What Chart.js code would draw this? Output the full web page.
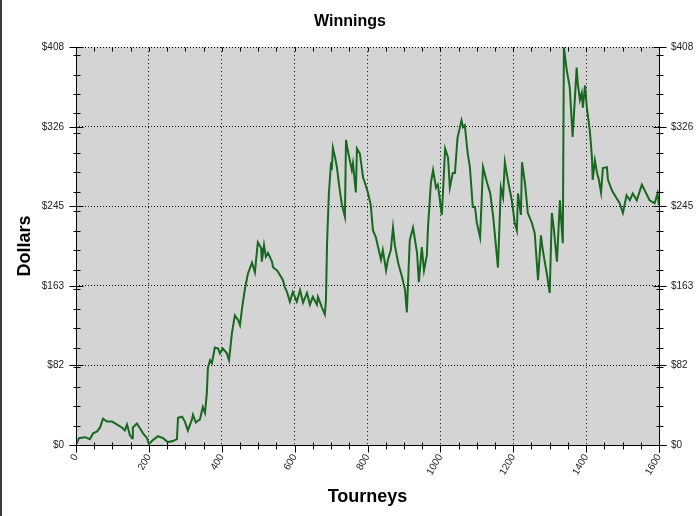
<!DOCTYPE html>
<html>
<head>
<meta charset="utf-8">
<script src="https://cdn.jsdelivr.net/npm/chart.js@4.4.1/dist/chart.umd.min.js"></script>
<style>
  html, body { margin: 0; padding: 0; background: #fff; }
  #wrap { position: relative; width: 700px; height: 516px; }
  #edge { position: absolute; left: 0; top: 0; width: 2px; height: 516px; background: #3a3a3a; }
</style>
</head>
<body>
<div id="wrap">
  <canvas id="winningsChart" width="700" height="516"></canvas>
  <div id="edge"></div>
</div>
<script>
// Running winnings (tourney number -> dollars)
const tourneys = [
  0, 8, 25, 38, 47, 58, 66, 74, 85, 99, 113, 126, 134, 140, 148, 154, 156, 167, 176, 184,
  195, 200, 211, 225, 239, 252, 266, 277, 280, 291, 299, 307, 318, 321, 329, 335, 340, 348, 354, 359,
  362, 368, 373, 376, 381, 390, 395, 403, 414, 420, 428, 436, 445, 450, 456, 464, 472, 483, 491, 499,
  508, 510, 516, 521, 527, 538, 541, 552, 560, 568, 573, 579, 587, 595, 606, 615, 623, 634, 642, 650,
  661, 664, 675, 683, 686, 689, 694, 700, 702, 705, 711, 716, 724, 730, 738, 741, 746, 757, 760, 768,
  771, 779, 788, 793, 801, 809, 815, 823, 829, 837, 842, 851, 856, 864, 870, 875, 884, 895, 903, 908,
  916, 925, 936, 941, 949, 955, 963, 966, 974, 980, 988, 993, 1004, 1007, 1013, 1021, 1026, 1034, 1040, 1047,
  1058, 1062, 1067, 1075, 1081, 1089, 1095, 1100, 1109, 1117, 1128, 1137, 1145, 1158, 1166, 1172, 1177, 1185, 1196, 1204,
  1210, 1213, 1221, 1224, 1232, 1240, 1251, 1259, 1268, 1276, 1281, 1292, 1300, 1306, 1311, 1320, 1328, 1333, 1336, 1339,
  1347, 1355, 1363, 1374, 1377, 1383, 1388, 1391, 1397, 1402, 1410, 1416, 1418, 1424, 1430, 1435, 1441, 1446, 1457, 1460,
  1471, 1479, 1492, 1501, 1511, 1520, 1528, 1539, 1553, 1561, 1574, 1588, 1596, 1600
];
const dollars = [
  0, 7, 8, 6, 12, 14, 18, 27, 24, 24, 21, 18, 15, 21, 10, 7, 18, 22, 17, 12,
  7, 1, 5, 9, 7, 3, 4, 6, 28, 29, 24, 15, 26, 31, 23, 25, 26, 39, 33, 53,
  79, 87, 84, 90, 100, 99, 94, 99, 94, 87, 115, 133, 128, 123, 141, 161, 176, 187, 177, 208,
  202, 188, 205, 193, 197, 188, 182, 179, 174, 169, 162, 157, 147, 157, 147, 159, 146, 156, 144, 152,
  144, 152, 141, 134, 149, 207, 258, 290, 282, 305, 295, 285, 261, 246, 234, 313, 302, 282, 289, 259,
  304, 299, 274, 269, 259, 246, 220, 213, 203, 190, 200, 179, 190, 200, 223, 205, 187, 172, 159, 136,
  210, 223, 197, 167, 203, 179, 195, 223, 269, 282, 264, 267, 236, 258, 304, 295, 264, 279, 279, 315,
  333, 326, 328, 299, 285, 244, 244, 228, 213, 285, 269, 258, 234, 182, 264, 254, 290, 272, 251, 228,
  220, 258, 236, 290, 269, 238, 228, 217, 169, 215, 200, 176, 156, 238, 223, 188, 251, 223, 207, 408,
  384, 367, 316, 387, 371, 354, 361, 346, 369, 346, 323, 295, 272, 292, 279, 272, 259, 284, 285, 272,
  261, 256, 248, 238, 256, 251, 258, 251, 267, 261, 251, 248, 258, 246
];

const xTickValues = [0, 200, 400, 600, 800, 1000, 1200, 1400, 1600];
const yTickValues = [0, 81.6, 163.2, 244.8, 326.4, 408];
const yTickLabels = ['$0', '$82', '$163', '$245', '$326', '$408'];

const fontFamily = 'Arial, "Liberation Sans", sans-serif';

// gray plot background
const plotBackground = {
  id: 'plotBackground',
  beforeDraw(chart) {
    const { ctx, chartArea: a } = chart;
    ctx.save();
    ctx.fillStyle = '#d4d4d4';
    ctx.fillRect(a.left, a.top, a.right - a.left, a.bottom - a.top);
    ctx.restore();
  }
};

// solid axes plus major/minor tick marks
const tickMarks = {
  id: 'tickMarks',
  afterDraw(chart) {
    const { ctx, chartArea: a, scales: { x, y } } = chart;
    const L = Math.round(a.left) + 0.5;
    const R = Math.round(a.right) + 0.5;
    const T = Math.round(a.top) + 0.5;
    const B = Math.round(a.bottom) + 0.5;
    ctx.save();
    ctx.strokeStyle = '#000';
    ctx.lineWidth = 1;
    ctx.beginPath();
    ctx.moveTo(L, T); ctx.lineTo(L, B + 7);
    ctx.moveTo(R, T); ctx.lineTo(R, B + 7);
    ctx.moveTo(L - 7, B); ctx.lineTo(R + 7, B);
    for (let v = 0; v <= 1600; v += 50) {
      const px = Math.round(x.getPixelForValue(v)) + 0.5;
      if (v % 200 === 0) {
        ctx.moveTo(px, B); ctx.lineTo(px, B + 7);
      } else {
        ctx.moveTo(px, B - 3); ctx.lineTo(px, B + 4);
      }
      ctx.moveTo(px, T); ctx.lineTo(px, T + 4);
    }
    for (let v = 0; v <= 408; v += 20) {
      const py = Math.round(y.getPixelForValue(v)) + 0.5;
      ctx.moveTo(L - 3, py); ctx.lineTo(L + 4, py);
      ctx.moveTo(R - 3, py); ctx.lineTo(R + 4, py);
    }
    yTickValues.forEach(v => {
      const py = Math.round(y.getPixelForValue(v)) + 0.5;
      ctx.moveTo(L - 7, py); ctx.lineTo(L + 7, py);
      ctx.moveTo(R - 6, py); ctx.lineTo(R + 7, py);
    });
    ctx.stroke();
    ctx.restore();
  }
};

function setYTicks(scale) {
  scale.ticks = yTickValues.map(v => ({ value: v }));
}

new Chart(document.getElementById('winningsChart'), {
  type: 'line',
  data: {
    datasets: [{
      label: 'Winnings',
      data: tourneys.map((t, i) => ({ x: t, y: dollars[i] })),
      borderColor: '#17691f',
      borderWidth: 2,
      pointRadius: 0,
      tension: 0,
      fill: false
    }]
  },
  options: {
    responsive: false,
    animation: false,
    layout: { padding: 0 },
    plugins: {
      legend: { display: false },
      tooltip: { enabled: false },
      title: {
        display: true,
        text: 'Winnings',
        color: '#000',
        font: { family: fontFamily, size: 16, weight: 'bold' },
        padding: { top: 12, bottom: 16 }
      }
    },
    scales: {
      x: {
        type: 'linear',
        min: 0,
        max: 1600,
        afterBuildTicks: scale => { scale.ticks = xTickValues.map(v => ({ value: v })); },
        afterFit: scale => { scale.height = 71; },
        ticks: {
          autoSkip: false,
          minRotation: 60,
          maxRotation: 60,
          padding: 7,
          color: '#222',
          font: { family: fontFamily, size: 10 },
          callback: v => String(v)
        },
        grid: { color: '#000', drawTicks: false, lineWidth: 1 },
        border: { display: false, dash: [1, 3] },
        title: {
          display: true,
          text: 'Tourneys',
          color: '#000',
          font: { family: fontFamily, size: 18, weight: 'bold' },
          padding: { top: 0, bottom: 8 }
        }
      },
      y: {
        position: 'left',
        min: 0,
        max: 408,
        afterBuildTicks: setYTicks,
        afterFit: scale => { scale.width = 76; },
        ticks: {
          padding: 12,
          color: '#222',
          font: { family: fontFamily, size: 10 },
          callback: (v, i) => yTickLabels[i]
        },
        grid: { color: '#000', drawTicks: false, lineWidth: 1 },
        border: { display: false, dash: [1, 2] },
        title: {
          display: true,
          text: 'Dollars',
          color: '#000',
          font: { family: fontFamily, size: 18, weight: 'bold' },
          padding: { top: 14, bottom: 0 }
        }
      },
      y2: {
        position: 'right',
        min: 0,
        max: 408,
        afterBuildTicks: setYTicks,
        afterFit: scale => { scale.width = 41; },
        ticks: {
          padding: 12,
          color: '#222',
          font: { family: fontFamily, size: 10 },
          callback: (v, i) => yTickLabels[i]
        },
        grid: { drawOnChartArea: false, drawTicks: false },
        border: { display: false }
      }
    }
  },
  plugins: [plotBackground, tickMarks]
});
</script>
</body>
</html>
